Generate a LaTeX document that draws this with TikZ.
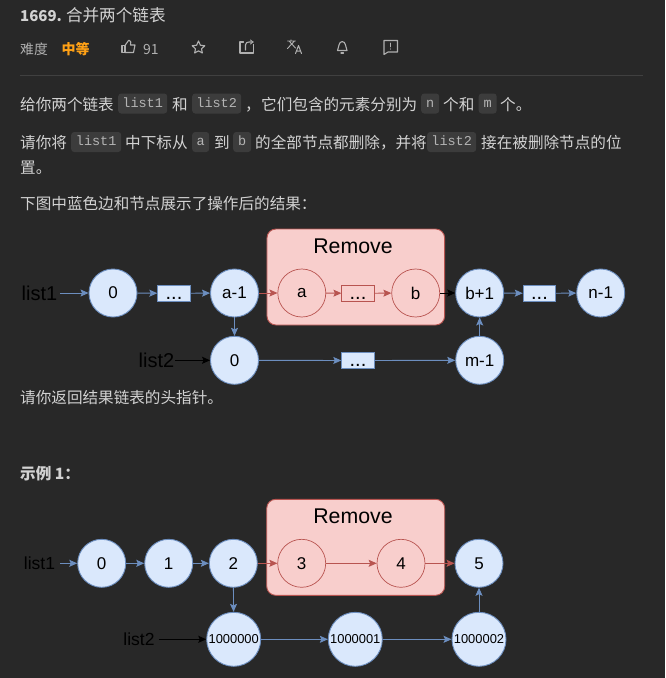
\documentclass[tikz,border=0pt]{standalone}
\usepackage{fontspec}
\usetikzlibrary{arrows.meta,shapes.geometric}
\setmainfont{Noto Sans CJK SC}
\newfontfamily\dia{Liberation Sans}
\newfontfamily\codef{Liberation Mono}
\definecolor{bgc}{HTML}{282828}
\definecolor{txt}{HTML}{D2D2D2}
\definecolor{muted}{HTML}{B0B0B0}
\definecolor{rulec}{HTML}{404040}
\definecolor{codebg}{HTML}{3C3C3C}
\definecolor{codetx}{HTML}{B4B4B4}
\definecolor{orangec}{HTML}{FFA116}
\definecolor{bluef}{HTML}{DAE8FC}
\definecolor{blued}{HTML}{6C8EBF}
\definecolor{redf}{HTML}{F8CECC}
\definecolor{redd}{HTML}{B85450}
\newcommand{\fsz}[1]{\fontsize{#1}{#1}\selectfont}
\newcommand{\dotsy}{\smash{\raisebox{-6pt}{...}}}
\tikzset{
  para/.style={anchor=west,inner sep=0pt,text=txt,font=\fsz{15.6},text height=13pt,text depth=0pt},
  code/.style={anchor=west,inner sep=0pt,rounded corners=3pt,fill=codebg,text=codetx,font=\codef\fsz{13.5},minimum height=20pt,text height=10pt,text depth=3pt},
  blue node/.style={circle,draw=blued,fill=bluef,line width=.9pt,minimum size=48pt,inner sep=0pt,text=black,font=\dia\fsz{17}},
  red node/.style={circle,draw=redd,fill=redf,line width=.7pt,minimum size=48pt,inner sep=0pt,text=black,font=\dia\fsz{17}},
  big node/.style={blue node,minimum size=54pt,font=\dia\fsz{12.9}},
  blue box/.style={rectangle,draw=blued,fill=bluef,line width=.9pt,minimum width=32.5pt,minimum height=16pt,inner sep=0pt,text=black,font=\dia\fsz{20}},
  red box/.style={blue box,draw=redd,fill=redf,line width=.7pt},
  remove box/.style={rectangle,rounded corners=9pt,draw=redd,fill=redf,line width=.9pt,inner sep=0pt},
  remove label/.style={inner sep=0pt,text=black,font=\dia\fsz{21.3}},
  list label/.style={inner sep=1pt,text=black,font=\dia\fsz{20}},
  list label small/.style={inner sep=1pt,text=black,font=\dia\fsz{17.5}},
  blue edge/.style={draw=blued,line width=.9pt,-{Stealth[length=8pt,width=7pt,inset=1.5pt]}},
  red edge/.style={draw=redd,line width=.9pt,-{Stealth[length=8pt,width=7pt,inset=1.5pt]}},
  black edge/.style={draw=black,line width=.9pt,-{Stealth[length=8pt,width=7pt,inset=1.5pt]}},
  icon/.style={draw=muted,line width=1.1pt,line join=round,line cap=round},
}
\begin{document}
\begin{tikzpicture}[x=1pt,y=-1pt]
\useasboundingbox (0,0) rectangle (665,678);
\fill[bgc] (0,0) rectangle (665,678);

% header
\node[para,font=\fsz{16.6},text=txt] (title) at (20,15) {{\fsz{15}\textbf{1669.}}\hspace{4pt}合并两个链表};
\node[para,font=\fsz{13.8},text=muted] (diff) at (20,47.5) {难度};
\node[para,font=\fsz{14},text=orangec] (level) at (61.5,47.5) {\textbf{中等}};
\node[para,font=\fsz{14},text=muted] (likes) at (143,47.5) {91};

% icons
\draw[icon] (122,45.5) rectangle (125,52.5);
\draw[icon] (125,45.5) -- (128.5,40.5) -- (129.5,40.5) .. controls (131,40.5) and (131,43) .. (130.5,45) -- (135,45) -- (133.5,52.5) -- (125,52.5);
\draw[icon] (198.5,41) -- (200.4,45.2) -- (204.8,45.8) -- (201.5,48.8) -- (202.4,53) -- (198.5,50.9) -- (194.6,53) -- (195.5,48.8) -- (192.2,45.8) -- (196.6,45.2) -- cycle;
\draw[icon] (243.5,42) -- (240,42) -- (240,53) -- (253.5,53) -- (253.5,44.5);
\draw[icon] (245.5,50) -- (245.5,45) .. controls (245.5,43) and (247,42) .. (249,42) -- (253,42);
\draw[icon,line width=.8pt] (250.5,40) -- (253,42) -- (250.5,44);
\draw[icon,line width=.9pt] (287.5,41) -- (295.5,41) (291,39.8) -- (291,41) (289,41) -- (295.5,48) (294.5,41) -- (287.5,48.5);
\draw[icon,line width=1pt] (295.5,53.5) -- (298.5,45.5) -- (301.5,53.5) (296.5,51) -- (300.5,51);
\draw[icon] (337.5,50.5) -- (339,45) .. controls (339.5,40.5) and (345,40.5) .. (345.5,45) -- (347,50.5) -- cycle;
\draw[icon] (341,53) -- (343.5,53);
\draw[icon] (384,40.5) -- (397.5,40.5) -- (397.5,52) -- (388,52) -- (384,54.5) -- cycle;
\draw[icon] (390.7,43.2) -- (390.7,46.8) (390.7,49) -- (390.7,49.1);

\draw[rulec,line width=.9pt] (20,75.6) -- (643,75.6);

% paragraph 1
\node[para] (p1a) at (20,103.5) {给你两个链表};
\node[code,minimum width=49pt] (c1) at (118,103.5) {list1};
\node[para] (p1b) at (172,103.5) {和};
\node[code,minimum width=49pt] (c2) at (192,103.5) {list2};
\node[para] (p1c) at (245,103.5) {，};
\node[para] (p1d) at (261,103.5) {它们包含的元素分别为};
\node[code,minimum width=18pt] (c3) at (421,103.5) {n};
\node[para] (p1e) at (443,103.5) {个和};
\node[code,minimum width=18pt] (c4) at (478.5,103.5) {m};
\node[para] (p1f) at (500,103.5) {个。};

% paragraph 2
\node[para] (p2a) at (20,142) {请你将};
\node[code,minimum width=50pt] (c5) at (71,142) {list1};
\node[para] (p2b) at (125,142) {中下标从};
\node[code,minimum width=17pt] (c6) at (192,142) {a};
\node[para] (p2c) at (214,142) {到};
\node[code,minimum width=18pt] (c7) at (233,142) {b};
\node[para] (p2d) at (255,142) {的全部节点都删除，并将};
\node[code,minimum width=49pt] (c8) at (427,142) {list2};
\node[para] (p2e) at (481,142) {接在被删除节点的位};
\node[para] (p2f) at (20,166.5) {置。};
\node[para] (p3) at (20,203) {下图中蓝色边和节点展示了操作后的结果：};
\node[para] (p4) at (20,397) {请你返回结果链表的头指针。};
\node[para,font=\fsz{15.6}] (ex) at (20,473) {\textbf{示例 1：}};

% diagram 1
\node[remove box,minimum width=177.7pt,minimum height=96pt] (rm1) at (355.8,277) {};
\node[remove label] (rm1l) at (353,246) {Remove};
\node[list label] (l1) at (39.5,293) {list1};
\node[list label] (l2) at (156.5,360.3) {list2};
\node[blue node] (n0) at (113,293) {0};
\node[blue box] (d1) at (174,293.3) {\dotsy};
\node[blue node] (na1) at (234.5,293) {a-1};
\node[red node] (na) at (301.8,293) {a};
\node[red box] (d2) at (358,293.3) {\dotsy};
\node[red node] (nb) at (415.7,293) {b};
\node[blue node] (nb1) at (479.7,293) {b+1};
\node[blue box] (d3) at (539.5,293.3) {\dotsy};
\node[blue node] (nn1) at (600.7,293) {n-1};
\node[blue node] (m0) at (234.5,360.3) {0};
\node[blue box] (d4) at (358,360.5) {\dotsy};
\node[blue node] (mm1) at (479.7,360.3) {m-1};

\draw[blue edge] ([xshift=1.5pt]l1.east) -- (n0);
\draw[blue edge] (n0) -- (d1);
\draw[blue edge] (d1) -- (na1);
\draw[red edge] (na1) -- (na);
\draw[red edge] (na) -- (d2);
\draw[red edge] (d2) -- (nb);
\draw[black edge] (nb) -- (nb1);
\draw[blue edge] (nb1) -- (d3);
\draw[blue edge] (d3) -- (nn1);
\draw[blue edge] (na1) -- (m0);
\draw[black edge] (l2) -- (m0);
\draw[blue edge] (m0) -- (d4);
\draw[blue edge] (d4) -- (mm1);
\draw[blue edge] (mm1) -- (nb1);

% diagram 2
\node[remove box,minimum width=178pt,minimum height=96pt] (rm2) at (355.7,547.3) {};
\node[remove label] (rm2l) at (353,516) {Remove};
\node[list label small] (e1) at (39.5,563.3) {list1};
\node[list label small] (e2) at (139,639.3) {list2};
\node[blue node] (x0) at (101.7,563.3) {0};
\node[blue node] (x1) at (168.7,563.3) {1};
\node[blue node] (x2) at (233.3,563.3) {2};
\node[red node] (x3) at (301.7,563.3) {3};
\node[red node] (x4) at (401,563.3) {4};
\node[blue node] (x5) at (479,563.3) {5};
\node[big node] (y0) at (233.7,639.3) {1000000};
\node[big node] (y1) at (355.3,639.3) {1000001};
\node[big node] (y2) at (479,639.3) {1000002};

\draw[blue edge] ([xshift=4pt]e1.east) -- (x0);
\draw[blue edge] (x0) -- (x1);
\draw[blue edge] (x1) -- (x2);
\draw[red edge] (x2) -- (x3);
\draw[red edge] (x3) -- (x4);
\draw[red edge] (x4) -- (x5);
\draw[blue edge] (x2) -- (y0);
\draw[black edge] ([xshift=3pt]e2.east) -- (y0);
\draw[blue edge] (y0) -- (y1);
\draw[blue edge] (y1) -- (y2);
\draw[blue edge] (y2) -- (x5);
\end{tikzpicture}
\end{document}
